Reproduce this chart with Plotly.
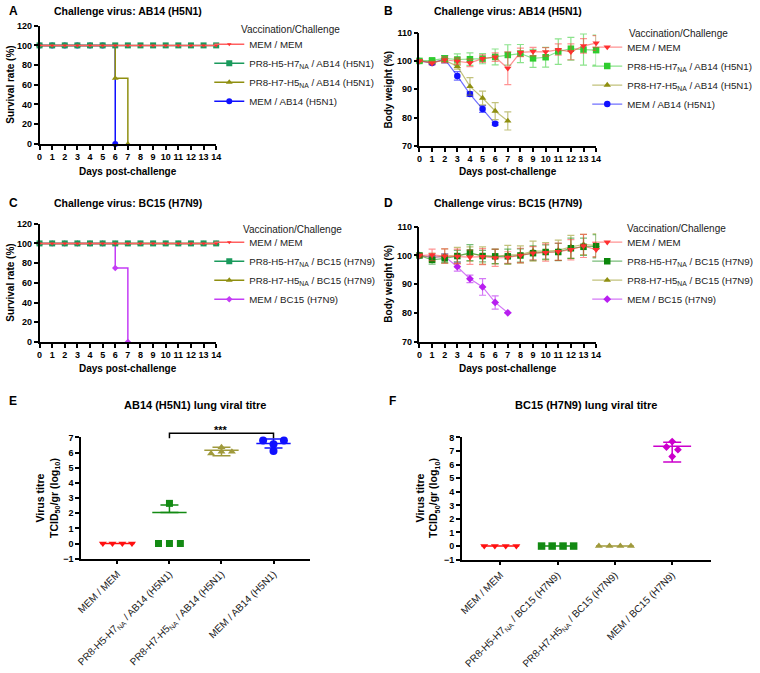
import plotly.graph_objects as go

W, H = 760, 673
FONT = "Liberation Sans, Arial, sans-serif"

# ---------------- DATA ----------------
days = [0, 1, 2, 3, 4, 5, 6, 7, 8, 9, 10, 11, 12, 13, 14]

# Panel A survival (%), AB14 (H5N1)
a_mem_mem = [100, 100, 100, 100, 100, 100, 100, 100, 100, 100, 100, 100, 100, 100, 100]
a_h5h7 = [100, 100, 100, 100, 100, 100, 100, 100, 100, 100, 100, 100, 100, 100, 100]
a_h7h5_days = [0, 1, 2, 3, 4, 5, 6, 7]
a_h7h5 = [100, 100, 100, 100, 100, 100, 66.7, 0]
a_mem_ab14_days = [0, 1, 2, 3, 4, 5, 6]
a_mem_ab14 = [100, 100, 100, 100, 100, 100, 0]

# Panel C survival (%), BC15 (H7N9)
c_mem_mem = [100, 100, 100, 100, 100, 100, 100, 100, 100, 100, 100, 100, 100, 100, 100]
c_h5h7 = [100, 100, 100, 100, 100, 100, 100, 100, 100, 100, 100, 100, 100, 100, 100]
c_h7h5 = [100, 100, 100, 100, 100, 100, 100, 100, 100, 100, 100, 100, 100, 100, 100]
c_mem_bc15_days = [0, 1, 2, 3, 4, 5, 6, 7]
c_mem_bc15 = [100, 100, 100, 100, 100, 100, 75, 0]

# Panel B body weight (%), AB14 (H5N1)
b_mem_mem = [100.0, 99.2, 100.4, 99.9, 99.3, 100.8, 101.3, 97.4, 103.0, 103.3, 103.2, 104.0, 103.2, 105.3, 106.3]
b_mem_mem_sd = [0.3, 0.6, 1.0, 1.2, 1.3, 1.3, 1.5, 5.8, 1.5, 1.5, 1.5, 2.0, 2.8, 2.6, 2.6]
b_h5h7 = [100.0, 100.2, 100.9, 100.5, 100.6, 100.8, 101.4, 102.1, 102.6, 100.9, 101.3, 103.3, 104.3, 104.0, 103.8]
b_h5h7_sd = [0.3, 0.5, 1.0, 2.0, 2.2, 1.8, 2.8, 3.6, 3.2, 3.2, 3.5, 4.5, 4.0, 5.5, 5.3]
b_h7h5_days = [0, 1, 2, 3, 4, 5, 6, 7]
b_h7h5 = [100.0, 99.6, 100.2, 98.1, 91.0, 86.9, 82.3, 78.8]
b_h7h5_sd = [0.3, 0.5, 0.8, 1.0, 3.1, 2.4, 3.0, 3.2]
b_mem_ab14_days = [0, 1, 2, 3, 4, 5, 6]
b_mem_ab14 = [100.0, 99.3, 100.6, 94.7, 88.3, 83.0, 77.8]
b_mem_ab14_sd = [0.3, 0.5, 1.3, 1.5, 0.8, 1.2, 0.5]

# Panel D body weight (%), BC15 (H7N9)
d_mem_mem = [100.0, 100.2, 99.8, 99.7, 99.4, 99.6, 99.2, 99.3, 100.0, 100.8, 101.0, 101.3, 102.0, 103.3, 102.0]
d_mem_mem_sd = [0.5, 2.0, 2.5, 2.5, 2.5, 2.8, 3.0, 2.0, 2.5, 2.3, 3.0, 3.0, 3.5, 4.0, 2.5]
d_h5h7 = [100.0, 98.5, 99.0, 99.8, 101.0, 99.8, 99.7, 99.7, 100.0, 100.8, 101.2, 101.2, 102.5, 103.0, 103.2]
d_h5h7_sd = [0.5, 1.5, 1.5, 2.0, 2.8, 2.0, 2.5, 2.5, 2.3, 2.5, 2.5, 3.0, 3.5, 3.0, 4.0]
d_h7h5 = [100.0, 99.3, 99.8, 100.0, 100.5, 100.0, 99.6, 100.2, 100.3, 101.5, 101.5, 101.8, 103.0, 103.8, 103.5]
d_h7h5_sd = [0.5, 1.5, 2.5, 2.8, 2.5, 3.0, 2.5, 3.3, 3.0, 3.5, 3.0, 3.5, 4.0, 3.5, 4.0]
d_mem_bc15_days = [0, 1, 2, 3, 4, 5, 6, 7]
d_mem_bc15 = [100.0, 99.4, 99.6, 96.1, 91.9, 89.1, 83.7, 80.1]
d_mem_bc15_sd = [0.3, 0.8, 1.0, 1.5, 1.3, 2.9, 2.3, 0.0]

# Panel E lung viral titre (log10 TCID50/gr), AB14 (H5N1)
e_groups = ["MEM / MEM", "PR8-H5-H7<sub>NA</sub> / AB14 (H5N1)",
            "PR8-H7-H5<sub>NA</sub> / AB14 (H5N1)", "MEM / AB14 (H5N1)"]
e_mem_mem = [0.0, 0.0, 0.0, 0.0]
e_h5h7 = [0.0, 0.0, 0.0, 2.65]
e_h7h5 = [5.95, 6.35, 6.05, 6.05]
e_mem_ab14 = [6.8, 6.55, 6.8, 6.1]
e_means = [0.0, 2.05, 6.15, 6.6]
e_err_up = [0.0, 0.5, 0.2, 0.3]
e_err_down = [0.0, 0.0, 0.35, 0.3]

# Panel F lung viral titre (log10 TCID50/gr), BC15 (H7N9)
f_groups = ["MEM / MEM", "PR8-H5-H7<sub>NA</sub> / BC15 (H7N9)",
            "PR8-H7-H5<sub>NA</sub> / BC15 (H7N9)", "MEM / BC15 (H7N9)"]
f_mem_mem = [0.0, 0.0, 0.0, 0.0]
f_h5h7 = [0.0, 0.0, 0.0, 0.0]
f_h7h5 = [0.0, 0.0, 0.0, 0.0]
f_mem_bc15 = [7.7, 7.3, 7.1, 6.6]
f_means = [0.0, 0.0, 0.0, 7.35]
f_err_up = [0.0, 0.0, 0.0, 0.3]
f_err_down = [0.0, 0.0, 0.0, 1.15]

legend_title = "Vaccination/Challenge"

# ---------------- STYLE / LAYOUT ----------------
def px_x(p):
    return p / W

def px_y(p):
    return 1 - p / H

fig = go.Figure()

dom = {
    "A": ((35, 214), (21, 141)),
    "B": ((420, 599), (28, 143)),
    "C": ((35, 214), (222, 342)),
    "D": ((420, 599), (225, 342)),
    "E": ((77, 309), (439, 562)),
    "F": ((463, 715), (439, 563)),
}
axis_ids = {"A": ("x", "y"), "B": ("x2", "y2"), "C": ("x3", "y3"),
            "D": ("x4", "y4"), "E": ("x5", "y5"), "F": ("x6", "y6")}

tickfont = dict(family=FONT, size=9, color="black", weight="bold")
base_axis = dict(showline=True, linecolor="black", linewidth=1.5, ticks="outside",
                 ticklen=4, tickwidth=1.5, tickcolor="black", showgrid=False,
                 zeroline=False, tickfont=tickfont)

RED = "#ff3030"
RED_L = "rgba(255,60,60,0.55)"
BLUE = "#1010ff"
OLIVE = "#8f8f10"
OLIVE_L = "rgba(143,143,16,0.55)"
GREEN_A = "#1a9a5c"
GREEN_B = "#2ecc2e"
GREEN_B_L = "rgba(46,204,46,0.55)"
GREEN_D = "#0b870b"
GREEN_D_L = "rgba(11,135,11,0.55)"
MAG_C = "#c43cf5"
MAG_D = "#b81ef0"
MAG_F = "#cc00cc"

def ax(panel):
    xa, ya = axis_ids[panel]
    return dict(xaxis=xa, yaxis=ya)

# ---- Panel A: survival (drawn last-first so that first series is on top)
lg = "legend"
fig.add_trace(go.Scatter(x=a_mem_ab14_days, y=a_mem_ab14, mode="lines+markers", line_shape="hv",
                         line=dict(color=BLUE, width=1.5), marker=dict(symbol="circle", size=6, color=BLUE),
                         name="MEM / AB14 (H5N1)", legend=lg, cliponaxis=False, **ax("A")))
fig.add_trace(go.Scatter(x=a_h7h5_days, y=a_h7h5, mode="lines+markers", line_shape="hv",
                         line=dict(color=OLIVE, width=1.5), marker=dict(symbol="triangle-up", size=6, color=OLIVE),
                         name="PR8-H7-H5<sub>NA</sub> / AB14 (H5N1)", legend=lg, cliponaxis=False, **ax("A")))
fig.add_trace(go.Scatter(x=days, y=a_h5h7, mode="lines+markers", line_shape="hv",
                         line=dict(color=GREEN_A, width=1.5), marker=dict(symbol="square", size=6, color=GREEN_A),
                         name="PR8-H5-H7<sub>NA</sub> / AB14 (H5N1)", legend=lg, cliponaxis=False, **ax("A")))
fig.add_trace(go.Scatter(x=days, y=a_mem_mem, mode="lines+markers", line_shape="hv",
                         line=dict(color="#ff6060", width=1.5), marker=dict(symbol="triangle-down", size=4, color=RED),
                         name="MEM / MEM", legend=lg, cliponaxis=False, **ax("A")))

# ---- Panel C: survival
lg = "legend3"
fig.add_trace(go.Scatter(x=c_mem_bc15_days, y=c_mem_bc15, mode="lines+markers", line_shape="hv",
                         line=dict(color=MAG_C, width=1.5), marker=dict(symbol="diamond", size=5, color=MAG_C),
                         name="MEM / BC15 (H7N9)", legend=lg, cliponaxis=False, **ax("C")))
fig.add_trace(go.Scatter(x=days, y=c_h7h5, mode="lines+markers", line_shape="hv",
                         line=dict(color=OLIVE, width=1.5), marker=dict(symbol="triangle-up", size=6, color=OLIVE),
                         name="PR8-H7-H5<sub>NA</sub> / BC15 (H7N9)", legend=lg, cliponaxis=False, **ax("C")))
fig.add_trace(go.Scatter(x=days, y=c_h5h7, mode="lines+markers", line_shape="hv",
                         line=dict(color=GREEN_A, width=1.5), marker=dict(symbol="square", size=6, color=GREEN_A),
                         name="PR8-H5-H7<sub>NA</sub> / BC15 (H7N9)", legend=lg, cliponaxis=False, **ax("C")))
fig.add_trace(go.Scatter(x=days, y=c_mem_mem, mode="lines+markers", line_shape="hv",
                         line=dict(color="#ff6060", width=1.5), marker=dict(symbol="triangle-down", size=4, color=RED),
                         name="MEM / MEM", legend=lg, cliponaxis=False, **ax("C")))

# ---- Panels B, D: body weight
def weight(xs, ys, sd, color, light, symbol, size, name, lg, panel):
    fig.add_trace(go.Scatter(
        x=xs, y=ys, mode="lines+markers", name=name, legend=lg, cliponaxis=False,
        line=dict(color=light, width=1.2),
        marker=dict(symbol=symbol, size=size, color=color),
        error_y=dict(type="data", array=sd, visible=True, color=light, thickness=1.2, width=3.5),
        **ax(panel)))

lg = "legend2"
weight(b_mem_ab14_days, b_mem_ab14, b_mem_ab14_sd, BLUE, "rgba(16,16,255,0.6)", "circle", 6.5, "MEM / AB14 (H5N1)", lg, "B")
weight(b_h7h5_days, b_h7h5, b_h7h5_sd, OLIVE, OLIVE_L, "triangle-up", 6.5, "PR8-H7-H5<sub>NA</sub> / AB14 (H5N1)", lg, "B")
weight(days, b_h5h7, b_h5h7_sd, GREEN_B, GREEN_B_L, "square", 6.5, "PR8-H5-H7<sub>NA</sub> / AB14 (H5N1)", lg, "B")
weight(days, b_mem_mem, b_mem_mem_sd, RED, RED_L, "triangle-down", 6.5, "MEM / MEM", lg, "B")

lg = "legend4"
weight(d_mem_bc15_days, d_mem_bc15, d_mem_bc15_sd, MAG_D, "rgba(184,30,240,0.6)", "diamond", 6, "MEM / BC15 (H7N9)", lg, "D")
weight(days, d_h7h5, d_h7h5_sd, OLIVE, OLIVE_L, "triangle-up", 6.5, "PR8-H7-H5<sub>NA</sub> / BC15 (H7N9)", lg, "D")
weight(days, d_h5h7, d_h5h7_sd, GREEN_D, GREEN_D_L, "square", 6.5, "PR8-H5-H7<sub>NA</sub> / BC15 (H7N9)", lg, "D")
weight(days, d_mem_mem, d_mem_mem_sd, RED, RED_L, "triangle-down", 6.5, "MEM / MEM", lg, "D")

# ---- Panels E, F: scatter with mean and error
JIT4 = [-0.28, -0.095, 0.095, 0.28]
def titre(panel, idx, vals, offsets, mean, eu, ed, color, symbol, size):
    xs = [idx + o for o in offsets]
    fig.add_trace(go.Scatter(x=xs, y=vals, mode="markers", showlegend=False, cliponaxis=False,
                             marker=dict(symbol=symbol, size=size, color=color), **ax(panel)))
    fig.add_trace(go.Scatter(x=[idx - 0.33, idx + 0.33], y=[mean, mean], mode="lines", showlegend=False,
                             line=dict(color=color, width=1.5), **ax(panel)))
    if eu > 0 or ed > 0:
        fig.add_trace(go.Scatter(x=[idx], y=[mean], mode="markers", showlegend=False,
                                 marker=dict(size=1, color="rgba(0,0,0,0)"),
                                 error_y=dict(type="data", symmetric=False, array=[eu], arrayminus=[ed],
                                              color=color, thickness=1.5, width=9),
                                 **ax(panel)))

titre("E", 0, e_mem_mem, JIT4, e_means[0], e_err_up[0], e_err_down[0], "#ff1010", "triangle-down", 7)
titre("E", 1, e_h5h7, [-0.21, 0, 0.21, 0], e_means[1], e_err_up[1], e_err_down[1], "#138a13", "square", 7)
titre("E", 2, e_h7h5, [-0.2, 0, 0, 0.2], e_means[2], e_err_up[2], e_err_down[2], "#a09a3c", "triangle-up", 7)
titre("E", 3, e_mem_ab14, [-0.2, 0, 0.2, 0], e_means[3], e_err_up[3], e_err_down[3], BLUE, "circle", 8)

titre("F", 0, f_mem_mem, JIT4, f_means[0], f_err_up[0], f_err_down[0], "#ff1010", "triangle-down", 7)
titre("F", 1, f_h5h7, JIT4, f_means[1], f_err_up[1], f_err_down[1], "#138a13", "square", 7.5)
titre("F", 2, f_h7h5, JIT4, f_means[2], f_err_up[2], f_err_down[2], "#a09a3c", "triangle-up", 7)
titre("F", 3, f_mem_bc15, [0, -0.1, 0.1, 0], f_means[3], f_err_up[3], f_err_down[3], MAG_F, "diamond", 6)

# ---- axes
def set_axes(panel, xkw, ykw):
    (x0, x1), (y0, y1) = dom[panel]
    xa, ya = axis_ids[panel]
    xname = "xaxis" + xa[1:]
    yname = "yaxis" + ya[1:]
    xd = dict(base_axis, domain=[px_x(x0), px_x(x1)], anchor=ya, **xkw)
    yd = dict(base_axis, domain=[px_y(y1), px_y(y0)], anchor=xa, **ykw)
    fig.update_layout(**{xname: xd, yname: yd})

day_axis = dict(range=[0, 14], tickmode="array", tickvals=days, tickangle=0)
set_axes("A", day_axis, dict(range=[0, 120], tickmode="linear", tick0=0, dtick=20))
set_axes("B", day_axis, dict(range=[70, 110], tickmode="linear", tick0=70, dtick=10))
set_axes("C", day_axis, dict(range=[0, 120], tickmode="linear", tick0=0, dtick=20))
set_axes("D", day_axis, dict(range=[70, 110], tickmode="linear", tick0=70, dtick=10))
cat_font = dict(family=FONT, size=10, color="#222")
set_axes("E", dict(range=[-0.7, 3.7], tickmode="array", tickvals=[0, 1, 2, 3], ticktext=e_groups,
                   tickangle=-45, tickfont=cat_font),
         dict(range=[-1, 7], tickmode="linear", tick0=-1, dtick=1))
set_axes("F", dict(range=[-0.67, 3.67], tickmode="array", tickvals=[0, 1, 2, 3], ticktext=f_groups,
                   tickangle=-45, tickfont=cat_font),
         dict(range=[-1, 8], tickmode="linear", tick0=-1, dtick=1))

# ---- legends (items only; the title is written as a text label)
def legend_cfg(xp, yp):
    return dict(x=px_x(xp), y=px_y(yp), xanchor="left", yanchor="top",
                bgcolor="rgba(0,0,0,0)", traceorder="reversed", tracegroupgap=0,
                itemwidth=30, font=dict(family=FONT, size=9.7, color="#222"))

fig.update_layout(
    legend=legend_cfg(207, 25),
    legend2=legend_cfg(590, 28),
    legend3=legend_cfg(207, 226),
    legend4=legend_cfg(590, 226),
)

# ---- annotations (titles, panel letters, axis titles)
ann = []
def text(x, y, s, size=10.5, bold=True, angle=0, xanchor="center", color="black"):
    ann.append(dict(x=px_x(x), y=px_y(y), xref="paper", yref="paper", text=s, showarrow=False,
                    xanchor=xanchor, yanchor="middle", textangle=angle,
                    font=dict(family=FONT, size=size, color=color, weight="bold" if bold else "normal")))

for letter, x, y in [("A", 2, 6), ("B", 382, 6), ("C", 2, 201), ("D", 382, 201), ("E", 2, 402), ("F", 387, 402)]:
    text(x, y, letter, size=12, xanchor="left")

text(237, 25, legend_title, size=10, bold=False, xanchor="left", color="#222")
text(630, 29, legend_title, size=10, bold=False, xanchor="left", color="#222")
text(239, 228, legend_title, size=10, bold=False, xanchor="left", color="#222")
text(628, 227, legend_title, size=10, bold=False, xanchor="left", color="#222")

text(125, 6, "Challenge virus: AB14 (H5N1)")
text(510, 6, "Challenge virus: AB14 (H5N1)")
text(125, 201, "Challenge virus: BC15 (H7N9)")
text(510, 201, "Challenge virus: BC15 (H7N9)")
text(193, 406, "AB14 (H5N1) lung viral titre", size=11)
text(589, 406, "BC15 (H7N9) lung viral titre", size=11)

text(125, 169, "Days post-challenge", size=10)
text(510, 169, "Days post-challenge", size=10)
text(125, 369, "Days post-challenge", size=10)
text(510, 369, "Days post-challenge", size=10)

text(6, 81, "Survival rate (%)", size=10, angle=-90)
text(6, 282, "Survival rate (%)", size=10, angle=-90)
text(389, 86, "Body weight (%)", size=10, angle=-90)
text(389, 283, "Body weight (%)", size=10, angle=-90)
text(43, 500, "Virus titre<br>TCID<sub>50</sub>/gr (log<sub>10</sub>)", size=10.5, angle=-90)
text(428, 500, "Virus titre<br>TCID<sub>50</sub>/gr (log<sub>10</sub>)", size=10.5, angle=-90)

# significance bracket in panel E (domain-relative coordinates computed from the data scale)
ex0, ex1 = -0.7, 3.7
ey0, ey1 = -1, 7
def fx(v):
    return (v - ex0) / (ex1 - ex0)
def fy(v):
    return (v - ey0) / (ey1 - ey0)
br_lo, br_hi = 6.95, 7.28
fig.add_shape(type="path", xref="x5 domain", yref="y5 domain",
              path=f"M {fx(1)} {fy(br_lo)} L {fx(1)} {fy(br_hi)} L {fx(3)} {fy(br_hi)} L {fx(3)} {fy(br_lo)}",
              line=dict(color="black", width=1.5))
ann.append(dict(x=fx(2), y=fy(7.5), xref="x5 domain", yref="y5 domain", text="***", showarrow=False,
                xanchor="center", yanchor="middle",
                font=dict(family=FONT, size=11, color="black", weight="bold")))

fig.update_layout(annotations=ann, width=W, height=H, margin=dict(l=0, r=0, t=0, b=0),
                  paper_bgcolor="white", plot_bgcolor="white", font=dict(family=FONT))

fig.write_html("out.html", config={"displayModeBar": False},
               post_script="document.body.style.margin='0px';document.body.style.padding='0px';")
